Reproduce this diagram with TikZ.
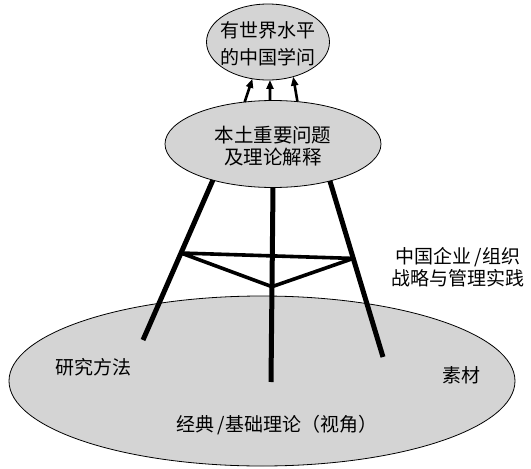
\documentclass[tikz,border=0pt]{standalone}
\usepackage{fontspec}
\setmainfont{Noto Sans CJK SC}
\usetikzlibrary{shapes.geometric,arrows.meta,calc}
\definecolor{ellgray}{RGB}{212,212,212}
\begin{document}
\begin{tikzpicture}[x=1pt,y=-1pt,
  ell/.style={ellipse,draw=black,line width=0.8pt,fill=ellgray,inner sep=0pt,outer sep=0pt},
  lbl/.style={font=\fontsize{19}{22}\selectfont,align=center,inner sep=0pt},
  leg/.style={line width=5pt},
  brace/.style={line width=3.6pt,line join=round},
  up/.style={line width=2.6pt,-{Triangle[length=9pt,width=7pt]}}]
\useasboundingbox (0,0) rectangle (531,469);
% base
\node[ell,minimum width=506pt,minimum height=170pt] (base) at (262,381) {};
\node[lbl] (method) at (94,367) {研究方法};
\node[lbl] (material) at (461,375) {素材};
\node[lbl] (classic) at (277,425) {经典\hspace{3pt}/基础理论（视角）};
\node[lbl,font=\fontsize{19}{21.5}\selectfont] (practice) at (458,267) {中国企业\hspace{3pt}/组织\\战略与管理实践};
% middle and top
\node[ell,minimum width=216pt,minimum height=87pt] (mid) at (273,144) {};
\node[lbl,font=\fontsize{19.5}{22.5}\selectfont] (midtxt) at (273,146) {本土重要问题\\及理论解释};
\node[ell,minimum width=123pt,minimum height=76pt] (top) at (268,42) {};
\node[lbl,font=\fontsize{19}{27}\selectfont] (toptxt) at (268,44) {有世界水平\\的中国学问};
% legs
\coordinate (lfoot) at (143,340);
\coordinate (mfoot) at (271,382);
\coordinate (rfoot) at (383,357);
\draw[leg] (mid.211) -- (lfoot);
\draw[leg] (mid.south) -- (mfoot);
\draw[leg] (mid.-33) -- (rfoot);
% braces
\coordinate (lb) at ($(mid.211)!0.456!(lfoot)$);
\coordinate (rb) at ($(mid.-33)!0.44!(rfoot)$);
\coordinate (cb) at ($(mid.south)!0.51!(mfoot)$);
\draw[brace] (lb) -- (rb) -- (cb) -- cycle;
% arrows
\draw[up] (mid.124) -- (top.247);
\draw[up] (mid.94) -- (top.273);
\draw[up] (mid.60) -- (top.306);
\end{tikzpicture}
\end{document}
